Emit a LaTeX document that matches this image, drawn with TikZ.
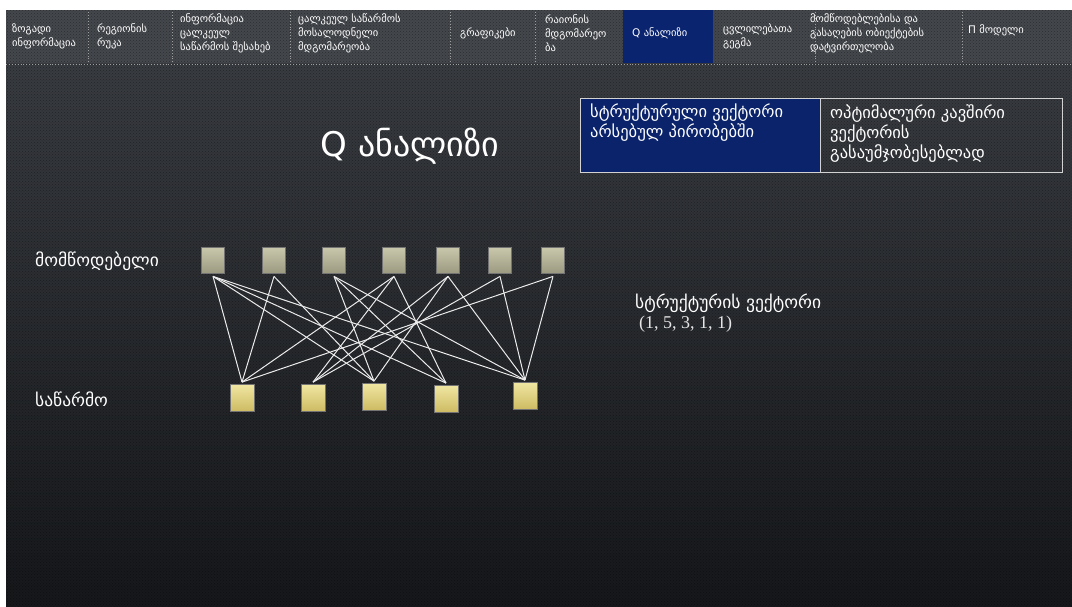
\documentclass[tikz,border=0pt]{standalone}
\usepackage{fontspec}
\setmainfont{DejaVu Sans}
\newfontfamily\numfont{Liberation Serif}
\usepackage{xcolor}
\usetikzlibrary{patterns,positioning}
\definecolor{bgtop}{HTML}{3C3F44}
\definecolor{bgmid}{HTML}{2B2E32}
\definecolor{bgbot}{HTML}{15171A}
\definecolor{menubg}{HTML}{44474C}
\definecolor{navyhi}{HTML}{0B2470}
\definecolor{cellnavy}{HTML}{0A236A}
\definecolor{supA}{HTML}{C9C7AC}
\definecolor{supB}{HTML}{9C9A80}
\definecolor{entA}{HTML}{F0E6A2}
\definecolor{entB}{HTML}{CDBB62}
\tikzset{
  menutext/.style={text=white,anchor=west,align=left,inner sep=0pt,font=\fontsize{10.5}{14}\selectfont},
  menusep/.style={draw=gray!75,dotted,line width=0.9pt},
  topbox/.style={draw=black!55,line width=0.8pt,top color=supA,bottom color=supB,minimum width=23pt,minimum height=26pt,inner sep=0pt},
  botbox/.style={draw=black!55,line width=0.8pt,top color=entA,bottom color=entB,minimum width=24pt,minimum height=27pt,inner sep=0pt},
  link/.style={draw=white!92!black,line width=1pt},
  cellbox/.style={draw=gray!35,line width=1.4pt,anchor=north west,inner sep=0pt},
  celltext/.style={text=white,anchor=north west,align=left,inner sep=0pt,font=\fontsize{16.5}{20}\selectfont},
  sidelabel/.style={text=white,anchor=west,inner sep=0pt,font=\fontsize{17.5}{20}\selectfont}
}
\begin{document}
\begin{tikzpicture}[x=1pt,y=-1pt]
  \useasboundingbox (0,0) rectangle (1072,606);
  \fill[white] (0,0) rectangle (1072,606);
  % slide background
  \shade[top color=bgtop,middle color=bgmid,bottom color=bgbot] (6,10) rectangle (1072,606);
  \fill[menubg] (6,10) rectangle (1072,63);
  \fill[pattern=crosshatch dots,pattern color=black,opacity=0.35] (6,10) rectangle (1072,606);
  \fill[navyhi] (623,10) rectangle (713,63);
  \draw[menusep] (6,64) -- (1072,64);
  \foreach \x in {88,172,290,450,535,815,962}{\draw[menusep] (\x,12) -- (\x,62);}
  % menu
  \node[menutext] (mGeneral) at (12,36) {ზოგადი\\ინფორმაცია};
  \node[menutext] (mMap) at (97,36) {რეგიონის\\რუკა};
  \node[menutext] (mInfo) at (180,33) {ინფორმაცია\\ცალკეულ\\საწარმოს შესახებ};
  \node[menutext] (mExpect) at (298,33) {ცალკეულ საწარმოს\\მოსალოდნელი\\მდგომარეობა};
  \node[menutext] (mGraphs) at (460,33) {გრაფიკები};
  \node[menutext] (mRegion) at (545,33) {რაიონის\\მდგომარეო\\ბა};
  \node[menutext] (mQ) at (632,33) {Q ანალიზი};
  \node[menutext] (mPlan) at (723,36) {ცვლილებათა\\გეგმა};
  \node[menutext] (mLoad) at (810,33) {მომწოდებლებისა და\\გასაღების ობიექტების\\დატვირთულობა};
  \node[menutext] (mPi) at (968,30) {Π მოდელი};
  % title and vector cells
  \node[text=white,font=\fontsize{34}{38}\selectfont] (title) at (410,146) {Q ანალიზი};
  \node[cellbox,fill=cellnavy,minimum width=240pt,minimum height=74pt] (cellNow) at (580,98) {};
  \node[cellbox,minimum width=242pt,minimum height=74pt] (cellOpt) at (820,98) {};
  \node[celltext] (txtNow) at ([shift={(10,6)}]cellNow.north west) {სტრუქტურული ვექტორი\\არსებულ პირობებში};
  \node[celltext] (txtOpt) at ([shift={(10,6)}]cellOpt.north west) {ოპტიმალური კავშირი\\ვექტორის\\გასაუმჯობესებლად};
  % suppliers and enterprises
  \node[sidelabel] (lblSup) at (35,261) {მომწოდებელი};
  \node[sidelabel] (lblEnt) at (35,399) {საწარმო};
  \foreach \x [count=\i] in {213,274,334,394,448,500,553}
    \node[topbox] (sup\i) at (\x,260) {};
  \foreach \x/\y [count=\i] in {242/398,313/398,374/397,446/399,525/396}
    \node[botbox] (ent\i) at (\x,\y) {};
  \foreach \a/\b in {1/1,1/3,1/4,1/5,2/1,2/3,3/3,3/4,3/5,4/1,4/2,4/4,5/2,5/3,5/5,6/2,6/5,7/1,7/5}
    \draw[link] ([yshift=-3pt]sup\a.south) -- ([yshift=2pt]ent\b.north);
  \node[sidelabel] (lblVec) at (635,303) {სტრუქტურის ვექტორი};
  \node[text=white!90!black,anchor=west,inner sep=0pt,font=\numfont\fontsize{18}{20}\selectfont] (vecVal) at (639,324) {(1, 5, 3, 1, 1)};
\end{tikzpicture}
\end{document}
